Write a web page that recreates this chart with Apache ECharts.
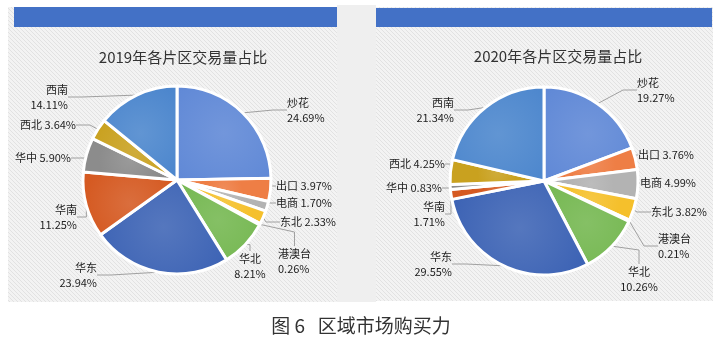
<!DOCTYPE html>
<html>
<head>
<meta charset="utf-8">
<script src="https://cdn.jsdelivr.net/npm/echarts@6/dist/echarts.min.js"></script>
<style>
  html, body { margin: 0; padding: 0; background: #ffffff; }
  #chart { width: 722px; height: 345px; }
</style>
</head>
<body>
<div id="chart"></div>
<script>
// Regional share of trade volume, clockwise from 12 o'clock
const regions = ['炒花', '出口', '电商', '东北', '港澳台', '华北', '华东', '华南', '华中', '西北', '西南'];
const share2019 = [24.69, 3.97, 1.70, 2.33, 0.26, 8.21, 23.94, 11.25, 5.90, 3.64, 14.11];
const share2020 = [19.27, 3.76, 4.99, 3.82, 0.21, 10.26, 29.55, 1.71, 0.83, 4.25, 21.34];
const titles = ['2019年各片区交易量占比', '2020年各片区交易量占比'];
const caption = '图 6   区域市场购买力';

// Slice colours per region
const regionColors = ['#5f88d6', '#ee7e45', '#b3b3b3', '#f5c02c', '#5b9bd5', '#74b750',
                      '#3e64b5', '#d55a22', '#8c8c8c', '#c9a11f', '#4c86cd'];
// Regions whose label sits on one line
const inlineLabels = ['出口', '电商', '东北', '华中', '西北'];

// Hand-placed label anchors per pie: [x, y, align]
const labelSpots = [
  [[287, 110, 'left'], [276, 186, 'left'], [276, 203, 'left'], [280, 222, 'left'],
   [278, 261, 'left'], [250, 266, 'center'], [97, 275, 'right'], [77, 217, 'right'],
   [71, 158, 'right'], [76, 125, 'right'], [68, 97, 'right']],
  [[637, 90, 'left'], [638, 155, 'left'], [640, 183, 'left'], [651, 212, 'left'],
   [658, 246, 'left'], [639, 279, 'center'], [452, 264, 'right'], [445, 214, 'right'],
   [442, 188, 'right'], [445, 164, 'right'], [454, 110, 'right']]
];

const FONT = '"Noto Sans CJK SC", "Noto Sans", sans-serif';

// Fine diagonal hatch used for the panel backgrounds
function hatchPattern() {
  const c = document.createElement('canvas');
  c.width = 4; c.height = 4;
  const g = c.getContext('2d');
  g.fillStyle = '#f3f3f3';
  g.fillRect(0, 0, 4, 4);
  g.fillStyle = '#e2e2e2';
  for (let i = 0; i < 4; i++) g.fillRect(i, i, 1, 1);
  return { image: c, repeat: 'repeat' };
}

function lighten(hex, amt) {
  const n = parseInt(hex.slice(1), 16);
  let r = (n >> 16) & 255, g = (n >> 8) & 255, b = n & 255;
  r = Math.round(r + (255 - r) * amt);
  g = Math.round(g + (255 - g) * amt);
  b = Math.round(b + (255 - b) * amt);
  return 'rgb(' + r + ',' + g + ',' + b + ')';
}

function buildData(values) {
  return regions.map((name, i) => ({
    name: name,
    value: values[i],
    itemStyle: {
      color: {
        type: 'radial', x: 0.5, y: 0.5, r: 0.7,
        colorStops: [
          { offset: 0, color: lighten(regionColors[i], 0.12) },
          { offset: 1, color: regionColors[i] }
        ]
      }
    }
  }));
}

function pieSeries(values, center, spots) {
  return {
    type: 'pie',
    center: center,
    radius: 94,
    startAngle: 90,
    clockwise: true,
    avoidLabelOverlap: false,
    data: buildData(values),
    itemStyle: { borderColor: '#ffffff', borderWidth: 3 },
    label: {
      show: true,
      fontFamily: FONT,
      fontSize: 11,
      color: '#222222',
      lineHeight: 15,
      formatter: p => p.name + (inlineLabels.includes(p.name) ? ' ' : '\n') + p.value.toFixed(2) + '%'
    },
    labelLine: {
      show: true,
      length: 8,
      length2: 14,
      lineStyle: { color: '#a0a0a0', width: 1 }
    },
    labelLayout: params => {
      const s = spots[params.dataIndex];
      return { x: s[0], y: s[1], align: s[2], verticalAlign: 'middle' };
    },
    emphasis: { disabled: true }
  };
}

const chart = echarts.init(document.getElementById('chart'), null, { renderer: 'canvas' });
const hatch = hatchPattern();

chart.setOption({
  animation: false,
  backgroundColor: '#ffffff',
  graphic: [
    // gap between panels
    { type: 'rect', shape: { x: 337, y: 5, width: 39, height: 297 }, style: { fill: '#efefef' }, z: -10 },
    // panels
    { type: 'rect', shape: { x: 8, y: 7, width: 329, height: 295 }, style: { fill: hatch }, z: -9 },
    { type: 'rect', shape: { x: 376, y: 7, width: 337, height: 294 }, style: { fill: hatch }, z: -9 },
    // blue header bars
    { type: 'rect', shape: { x: 14, y: 7, width: 323, height: 20 }, style: { fill: '#4371c6' }, z: -8 },
    { type: 'rect', shape: { x: 376, y: 8, width: 336, height: 19 }, style: { fill: '#4371c6' }, z: -8 },
    // figure caption
    {
      type: 'text', left: 'center', top: 316,
      style: { text: caption, fontFamily: FONT, fontSize: 19, fill: '#333333' }
    }
  ],
  title: [
    { text: titles[0], left: 178, top: 45, textAlign: 'center',
      textStyle: { fontFamily: FONT, fontSize: 15, fontWeight: 'normal', color: '#333333' } },
    { text: titles[1], left: 553, top: 44, textAlign: 'center',
      textStyle: { fontFamily: FONT, fontSize: 15, fontWeight: 'normal', color: '#333333' } }
  ],
  series: [
    pieSeries(share2019, [177, 180], labelSpots[0]),
    pieSeries(share2020, [544, 181], labelSpots[1])
  ]
});
</script>
</body>
</html>
